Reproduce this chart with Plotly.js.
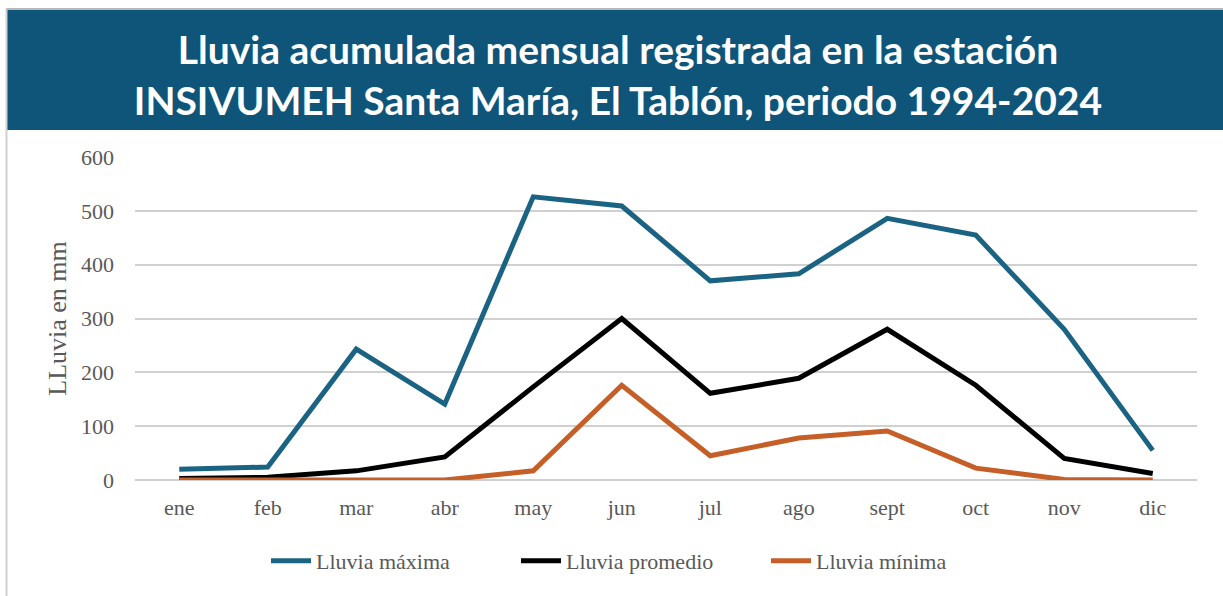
<!DOCTYPE html>
<html><head><meta charset="utf-8">
<script src="https://cdn.plot.ly/plotly-3.0.1.min.js"></script>
<style>html,body{margin:0;padding:0;background:#fff}#chart{width:1223px;height:596px}</style>
</head><body><div id="chart"></div>
<script>
const months = ["ene","feb","mar","abr","may","jun","jul","ago","sept","oct","nov","dic"];
const lluviaMaxima = [20, 24, 243, 141, 526, 509, 370, 383, 486, 455, 280, 55];
const lluviaPromedio = [3, 5, 17, 43, 173, 300, 161, 189, 280, 176, 40, 12];
const lluviaMinima = [0, 0, 0, 0, 17, 176, 45, 78, 91, 22, 1, 0];
const seriesNames = ["Lluvia máxima", "Lluvia promedio", "Lluvia mínima"];

const W = 1223, H = 596;
const m = {l: 135, r: 26, t: 157, b: 116};
const pw = W - m.l - m.r, ph = H - m.t - m.b;
const px = x => (x - m.l) / pw;
const py = y => (H - m.b - y) / ph;

const serif = "Liberation Serif, serif";
const traces = [
  {x: months, y: lluviaMaxima, name: seriesNames[0], line: {color: "#1b6383", width: 5}},
  {x: months, y: lluviaPromedio, name: seriesNames[1], line: {color: "#000000", width: 5}},
  {x: months, y: lluviaMinima, name: seriesNames[2], line: {color: "#c55f27", width: 5}}
].map(t => Object.assign({type: "scatter", mode: "lines", hoverinfo: "skip"}, t));

const layout = {
  width: W, height: H,
  margin: m,
  paper_bgcolor: "#ffffff", plot_bgcolor: "#ffffff",
  showlegend: true,
  legend: {orientation: "h", x: px(266), xanchor: "left", y: py(561), yanchor: "middle",
           font: {family: serif, size: 22, color: "#595959"}, itemwidth: 40, entrywidth: 195,
           entrywidthmode: "pixels", traceorder: "normal"},
  xaxis: {type: "category", range: [-0.5, 11.5], showgrid: false, zeroline: false, showline: false,
          ticks: "", tickfont: {family: serif, size: 22, color: "#595959"}, ticklabelstandoff: 12, fixedrange: true},
  yaxis: {range: [0, 600], dtick: 100, showgrid: true, gridcolor: "#d0d0d0", gridwidth: 2,
          zeroline: true, zerolinecolor: "#d0d0d0", zerolinewidth: 2, showline: false, ticks: "",
          tickfont: {family: serif, size: 22, color: "#595959"}, ticklabelstandoff: 20,
          title: {text: "LLuvia en mm", font: {family: serif, size: 26, color: "#595959"}, standoff: 6}},
  title: {text: "Lluvia acumulada mensual registrada en la estación<br>INSIVUMEH Santa María, El Tablón, periodo 1994-2024",
          font: {family: "Lato, sans-serif", size: 39, color: "#ffffff", weight: "bold"},
          x: 618 / W, xref: "container", xanchor: "center", y: 1 - 64/H, yref: "container", yanchor: "middle"},
  shapes: [
    {type: "rect", xref: "paper", yref: "paper", x0: px(6), x1: px(1223), y0: py(9), y1: py(130),
     fillcolor: "#0f5579", line: {width: 0}, layer: "below"},
    {type: "line", xref: "paper", yref: "paper", x0: px(6), x1: px(1223), y0: py(9), y1: py(9),
     line: {color: "#b8b8b8", width: 2}},
    {type: "line", xref: "paper", yref: "paper", x0: px(6.5), x1: px(6.5), y0: py(9), y1: py(596),
     line: {color: "#d0d0d0", width: 2}}
  ]
};
Plotly.newPlot("chart", traces, layout, {displayModeBar: false, staticPlot: true});
</script></body></html>
